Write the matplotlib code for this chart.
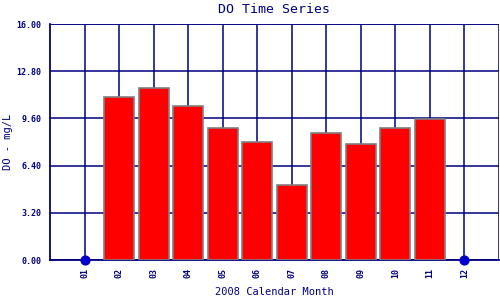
import numpy as np
import matplotlib.pyplot as plt

months = ["01", "02", "03", "04", "05", "06", "07", "08", "09", "10", "11", "12"]
do_values = [np.nan, 11.03, 11.64, 10.42, 8.95, 7.98, 5.08, 8.59, 7.84, 8.95, 9.56, np.nan]
missing = ["01", "12"]
yticks = [0.0, 3.2, 6.4, 9.6, 12.8, 16.0]

navy = "#000080"
plt.rcParams["font.family"] = "DejaVu Sans Mono"

fig = plt.figure(figsize=(5, 3), dpi=100)
ax = fig.add_axes([0.1, 0.1333, 0.898, 0.7867])

pos = np.arange(1, len(months) + 1)
ax.bar(pos, do_values, width=0.87, color="#ff0000", edgecolor="#808080", linewidth=1.2, zorder=3)

miss_pos = [pos[months.index(m)] for m in missing]
ax.scatter(miss_pos, [0] * len(miss_pos), s=40, color="#0000cc", zorder=4, clip_on=False)

ax.set_xlim(0, 13)
ax.set_ylim(0, 16)
ax.set_xticks(pos)
ax.set_xticklabels(months, rotation=90, fontsize=6, color=navy, fontweight="bold")
ax.set_yticks(yticks)
ax.set_yticklabels(["%.2f" % v for v in yticks], fontsize=6, color=navy, fontweight="bold")
ax.tick_params(length=0, pad=6)
ax.grid(True, color=navy, linewidth=1.1, zorder=0)
ax.set_axisbelow(True)
for side in ["top", "right"]:
    ax.spines[side].set_visible(False)
for side in ["left", "bottom"]:
    ax.spines[side].set_color(navy)
    ax.spines[side].set_linewidth(1.3)
ax.axhline(16, color=navy, linewidth=1.1, zorder=1)
ax.axvline(13, color=navy, linewidth=1.1, zorder=1)

ax.set_title("DO Time Series", fontsize=9.5, color=navy, pad=8)
ax.set_xlabel("2008 Calendar Month", fontsize=7.5, color=navy)
ax.set_ylabel("DO - mg/L", fontsize=7.5, color=navy)
ax.xaxis.set_label_coords(0.5, -0.115)
ax.yaxis.set_label_coords(-0.083, 0.5)

fig.savefig("out.png", dpi=100)
